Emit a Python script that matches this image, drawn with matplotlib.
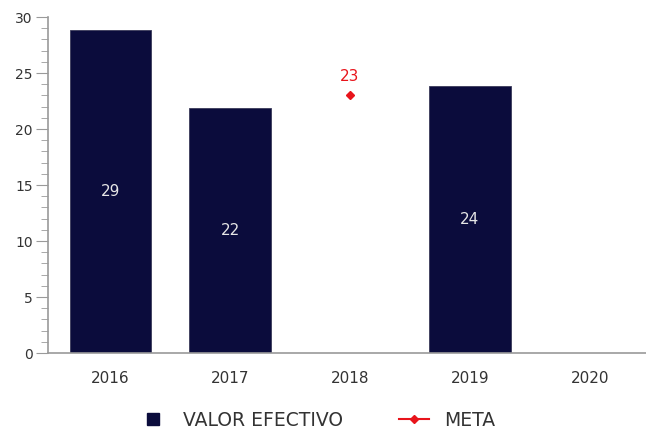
import matplotlib.pyplot as plt
from matplotlib.lines import Line2D
from matplotlib.ticker import MultipleLocator

years = ['2016', '2017', '2018', '2019', '2020']
valor_efectivo = [28.8, 21.9, None, 23.8, None]
meta = [None, None, 23, None, None]

BAR_COLOR = '#0b0c3c'
META_COLOR = '#e8141b'
AXIS_COLOR = '#9a9a9a'
TEXT_COLOR = '#333333'

fig = plt.figure(figsize=(6.46, 4.34), dpi=100)
ax = fig.add_axes([0.0743, 0.1866, 0.9257, 0.7742])

x = list(range(len(years)))
for i, v in enumerate(valor_efectivo):
    if v is None:
        continue
    ax.bar(i, v, width=0.68, color=BAR_COLOR, edgecolor='#3a3a5a', linewidth=0.6)
    ax.text(i, v / 2, f'{round(v)}', ha='center', va='center',
            fontsize=11, color='#e6e6e6')

for i, m in enumerate(meta):
    if m is None:
        continue
    ax.plot(i, m, marker='D', markersize=4, color=META_COLOR, linestyle='none')
    ax.text(i, m + 1.0, f'{m}', ha='center', va='bottom', fontsize=11, color=META_COLOR)

ax.set_xlim(-0.52, 4.47)
ax.set_ylim(0, 30)
ax.set_xticks(x)
ax.set_xticklabels(years)
ax.yaxis.set_major_locator(MultipleLocator(5))
ax.yaxis.set_minor_locator(MultipleLocator(1))

for s in ['top', 'right']:
    ax.spines[s].set_visible(False)
for s in ['left', 'bottom']:
    ax.spines[s].set_color(AXIS_COLOR)
    ax.spines[s].set_linewidth(1.2)

ax.tick_params(axis='y', which='major', length=9, color=AXIS_COLOR, labelsize=10,
               labelcolor=TEXT_COLOR, pad=2)
ax.tick_params(axis='y', which='minor', length=5, color=AXIS_COLOR)
ax.tick_params(axis='x', length=0, labelsize=11, labelcolor=TEXT_COLOR, pad=13)

handles = [
    Line2D([], [], marker='s', markersize=8, color=BAR_COLOR, linestyle='none',
           label='VALOR EFECTIVO'),
    Line2D([], [], marker='D', markersize=4, color=META_COLOR, linewidth=1.5,
           label='META'),
]
fig.legend(handles=handles, loc='center', bbox_to_anchor=(0.49, 0.032), ncol=2,
           frameon=False, fontsize=13.5, labelcolor=TEXT_COLOR, handlelength=1.6,
           columnspacing=3.0)

fig.savefig('out.png', dpi=100, facecolor='white')
